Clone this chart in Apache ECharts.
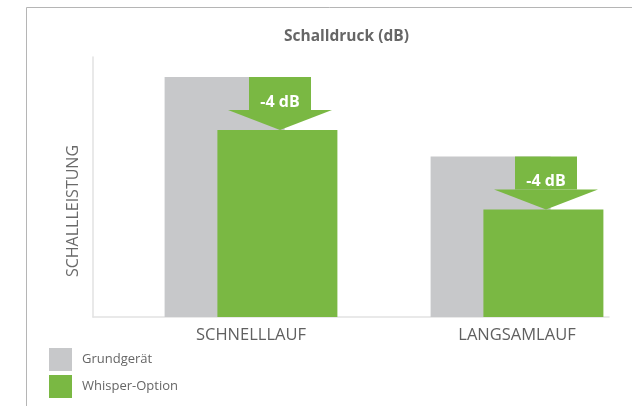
<!DOCTYPE html>
<html>
<head>
<meta charset="utf-8">
<script src="https://cdn.jsdelivr.net/npm/echarts@6/dist/echarts.min.js"></script>
<style>html,body{margin:0;padding:0;background:#fff}#c{width:632px;height:406px}</style>
</head>
<body>
<div id="c"></div>
<script>
const categories = ['SCHNELLLAUF', 'LANGSAMLAUF'];
const seriesNames = ['Grundgerät', 'Whisper-Option'];
const grundValues = [18.1, 12.1];
const whisperValues = [14.1, 8.1];
const titleText = 'Schalldruck (dB)';
const yAxisName = 'SCHALLLEISTUNG';
const yMax = 19.6;

const GREY = '#c7c8ca';
const GREEN = '#7ab843';
const FONT = '"Open Sans", sans-serif';

const arrowData = categories.map((c, i) => [i, grundValues[i], whisperValues[i]]);

const chart = echarts.init(document.getElementById('c'), null, {renderer: 'canvas'});
chart.setOption({
  animation: false,
  backgroundColor: '#fff',
  graphic: [{
    type: 'rect', silent: true,
    shape: {x: 26.5, y: 7.5, width: 700, height: 500},
    style: {fill: 'none', stroke: '#b5b5b5', lineWidth: 1}
  }],
  title: {
    text: titleText, left: 279, top: 24,
    textStyle: {fontFamily: FONT, fontSize: 15.5, fontWeight: 'bold', color: '#666'}
  },
  legend: {
    orient: 'vertical', left: 49, top: 348, padding: 0, itemWidth: 23, itemHeight: 23, itemGap: 4,
    icon: 'rect', data: seriesNames,
    textStyle: {fontFamily: FONT, fontSize: 13, color: '#666', padding: [0, 0, 0, 5]}
  },
  grid: [
    {left: 93, right: 23, top: 57, bottom: 89, outerBoundsMode: 'none', containLabel: false},
    {left: 118, width: 532, top: 57, bottom: 89, outerBoundsMode: 'none', containLabel: false}
  ],
  xAxis: [
    {type: 'category', gridIndex: 0, data: categories,
     axisLine: {lineStyle: {color: '#e2e2e2', width: 1.5}}, axisTick: {show: false}, axisLabel: {show: false}},
    {type: 'category', gridIndex: 1, data: categories,
     axisLine: {show: false}, axisTick: {show: false},
     axisLabel: {margin: 10, fontFamily: FONT, fontSize: 16.5, color: '#606060'}}
  ],
  yAxis: [
    {type: 'value', gridIndex: 0, min: 0, max: yMax,
     name: yAxisName, nameLocation: 'middle', nameGap: 12, nameRotate: 90,
     nameTextStyle: {fontFamily: FONT, fontSize: 16, color: '#6a6a6a', padding: [0, 48, 0, 0]},
     axisLine: {show: true, lineStyle: {color: '#e2e2e2', width: 1.5}}, axisTick: {show: false},
     axisLabel: {show: false}, splitLine: {show: false}},
    {type: 'value', gridIndex: 1, min: 0, max: yMax, show: false, splitLine: {show: false}}
  ],
  series: [
    {name: seriesNames[0], type: 'bar', xAxisIndex: 1, yAxisIndex: 1, data: grundValues,
     barWidth: 120, barGap: '-56%', itemStyle: {color: GREY}, z: 2},
    {name: seriesNames[1], type: 'bar', xAxisIndex: 1, yAxisIndex: 1, data: whisperValues,
     barWidth: 120, barGap: '-56%', itemStyle: {color: GREEN}, z: 3},
    {type: 'custom', xAxisIndex: 1, yAxisIndex: 1, data: arrowData, z: 4,
     renderItem: function (params, api) {
       const top = api.coord([api.value(0), api.value(1)]);
       const tip = api.coord([api.value(0), api.value(2)]);
       const cx = top[0] + 29;
       const headH = 20;
       const diff = Math.round(api.value(2) - api.value(1));
       return {
         type: 'group',
         children: [
           {type: 'rect', shape: {x: cx - 31, y: top[1], width: 62, height: tip[1] - headH - top[1]},
            style: {fill: GREEN}},
           {type: 'polygon', shape: {points: [[cx - 52, tip[1] - headH], [cx + 52, tip[1] - headH], [cx, tip[1]]]},
            style: {fill: GREEN}},
           {type: 'text', x: cx, y: tip[1] - headH - 8,
            style: {text: diff + ' dB', fill: '#fff', font: 'bold 16px "Open Sans", sans-serif',
                    align: 'center', verticalAlign: 'middle'}}
         ]
       };
     }}
  ]
});
</script>
</body>
</html>
